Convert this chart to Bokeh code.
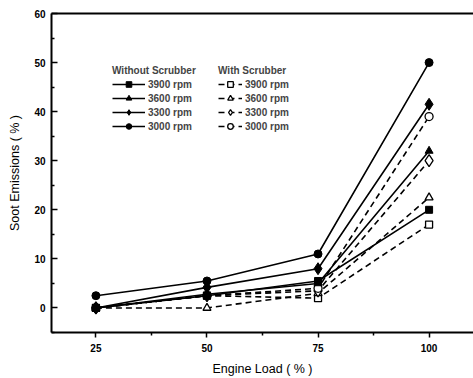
from bokeh.plotting import figure
from bokeh.models import (FixedTicker, Legend, LegendItem, LinearAxis, Range1d)
from bokeh.embed import file_html
from bokeh.resources import INLINE

loads = [25, 50, 75, 100]
rpm_labels = ["3900 rpm", "3600 rpm", "3300 rpm", "3000 rpm"]
markers = ["square", "triangle", "diamond", "circle"]
marker_sizes = [7, 8, 12, 8]

without_3900 = [0.0, 2.5, 5.5, 20.0]
without_3600 = [0.0, 2.8, 5.0, 32.0]
without_3300 = [0.0, 4.2, 8.0, 41.5]
without_3000 = [2.5, 5.5, 11.0, 50.0]

with_3900 = [0.0, 2.5, 2.0, 17.0]
with_3600 = [0.0, 0.0, 3.0, 22.5]
with_3300 = [0.0, 2.5, 3.5, 30.0]
with_3000 = [0.0, 2.5, 4.0, 39.0]

y_ticks = [0, 10, 20, 30, 40, 50, 60]
y_minor = [-5, 5, 15, 25, 35, 45, 55]
x_ticks = [25, 50, 75, 100]
x_minor = [37.5, 62.5, 87.5]

FONT = "Liberation Sans"

p = figure(width=473, height=378, output_backend="svg", toolbar_location=None,
           x_range=Range1d(15, 110), y_range=Range1d(-5, 60),
           min_border_left=51, min_border_right=0, min_border_top=13,
           min_border_bottom=46)
p.outline_line_color = None
p.xgrid.visible = False
p.ygrid.visible = False
p.background_fill_color = "white"
p.border_fill_color = "white"

# top border line
top_axis = LinearAxis(ticker=FixedTicker(ticks=[]), major_label_text_font_size="0px",
                      major_tick_line_color=None, minor_tick_line_color=None,
                      axis_line_width=2, axis_line_color="black")
p.add_layout(top_axis, "above")

xa = p.below[0]
ya = p.left[0]

xa.ticker = FixedTicker(ticks=x_ticks, minor_ticks=x_minor)
ya.ticker = FixedTicker(ticks=y_ticks, minor_ticks=y_minor)

for ax in (xa, ya):
    ax.axis_line_width = 2
    ax.axis_line_color = "black"
    ax.major_tick_line_width = 1.5
    ax.minor_tick_line_width = 1.5
    ax.major_label_text_font = FONT
    ax.major_label_text_font_style = "bold"
    ax.major_label_text_font_size = "10px"
    ax.major_label_text_color = "black"
    ax.axis_label_text_font = FONT
    ax.axis_label_text_font_style = "normal"
    ax.axis_label_text_font_size = "12.5px"
    ax.axis_label_text_color = "black"

xa.major_tick_out = 5
xa.major_tick_in = 0
xa.minor_tick_out = 3
xa.minor_tick_in = 0
xa.major_label_standoff = 6
xa.axis_label = "Engine Load ( % )"
xa.axis_label_standoff = 7

ya.major_tick_out = 0
ya.major_tick_in = 6
ya.minor_tick_out = 0
ya.minor_tick_in = 3
ya.major_label_standoff = 6
ya.axis_label = "Soot Emissions ( % )"
ya.axis_label_standoff = 9

without = [without_3900, without_3600, without_3300, without_3000]
withs = [with_3900, with_3600, with_3300, with_3000]

items1 = []
items2 = []
for vals, m, s, lab in zip(withs, markers, marker_sizes, rpm_labels):
    ln = p.line(loads, vals, line_color="black", line_width=1.6, line_dash="6 4")
    sc = p.scatter(loads, vals, marker=m, size=s, fill_color="white",
                   line_color="black", line_width=1.3)
    items2.append(LegendItem(label=lab, renderers=[ln, sc]))

for vals, m, s, lab in zip(without, markers, marker_sizes, rpm_labels):
    ln = p.line(loads, vals, line_color="black", line_width=1.6)
    sc = p.scatter(loads, vals, marker=m, size=s, fill_color="black",
                   line_color="black", line_width=1.0)
    items1.append(LegendItem(label=lab, renderers=[ln, sc]))


def style_legend(lg, glyph_w):
    lg.border_line_color = None
    lg.background_fill_alpha = 0
    lg.padding = 0
    lg.margin = 0
    lg.spacing = 0
    lg.label_height = 14
    lg.glyph_height = 14
    lg.glyph_width = glyph_w
    lg.label_standoff = 3
    lg.label_text_font = FONT
    lg.label_text_font_style = "bold"
    lg.label_text_font_size = "10px"
    lg.title_text_font = FONT
    lg.title_text_font_style = "bold"
    lg.title_text_font_size = "10px"
    lg.title_standoff = 1
    lg.label_text_baseline = "middle"


lg1 = Legend(items=items1, title="Without Scrubber", location=(61, 199))
style_legend(lg1, 33)
lg2 = Legend(items=items2, title="With Scrubber", location=(167, 199))
style_legend(lg2, 24)
p.add_layout(lg1, "center")
p.add_layout(lg2, "center")

open("out.html", "w").write(file_html(p, INLINE))
